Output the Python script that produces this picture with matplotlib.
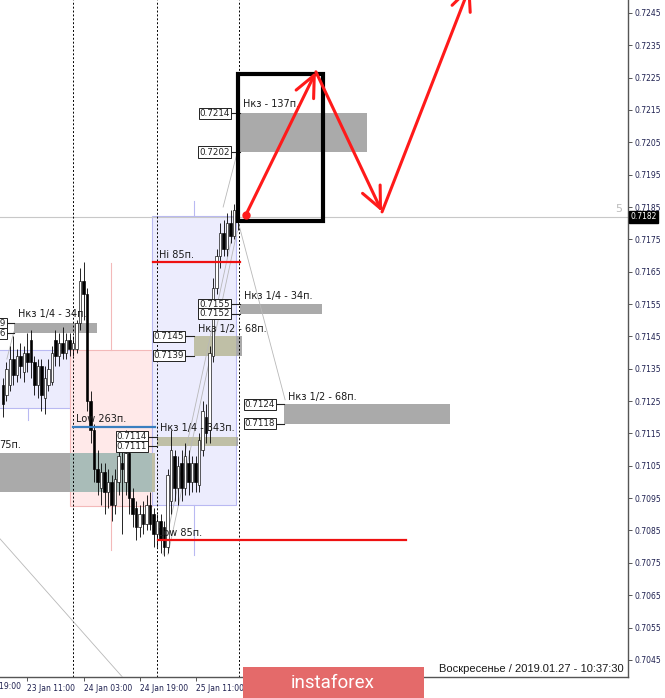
import matplotlib
matplotlib.use("Agg")
import matplotlib.pyplot as plt
from matplotlib.patches import Rectangle
from matplotlib.transforms import blended_transform_factory

# бары H1, индекс 0 = 23 Jan 00:00
bar_idx = list(range(4, 72))
opens = [0.7130, 0.7127, 0.7130, 0.7138, 0.7133, 0.7139, 0.7134, 0.7140, 0.7144, 0.7137,
         0.7130, 0.7136, 0.7126, 0.7130, 0.7131, 0.7144, 0.7139, 0.7143, 0.7140, 0.7144,
         0.7141, 0.7141, 0.7149, 0.7162, 0.7158, 0.7125, 0.7116, 0.7104, 0.7098, 0.7103,
         0.7097, 0.7100, 0.7093, 0.7100, 0.7106, 0.7100, 0.7109, 0.7095, 0.7092, 0.7086,
         0.7090, 0.7087, 0.7093, 0.7090, 0.7084, 0.7088, 0.7086, 0.7080, 0.7094, 0.7108,
         0.7098, 0.7106, 0.7098, 0.7106, 0.7100, 0.7106, 0.7099, 0.7110, 0.7120, 0.7116,
         0.7139, 0.7160, 0.7170, 0.7177, 0.7172, 0.7180, 0.7176, 0.7184]
highs = [0.7132, 0.7137, 0.7142, 0.7145, 0.7141, 0.7143, 0.7142, 0.7146, 0.7147, 0.7139,
         0.7138, 0.7138, 0.7136, 0.7138, 0.7142, 0.7147, 0.7146, 0.7148, 0.7146, 0.7146,
         0.7145, 0.7150, 0.7166, 0.7168, 0.7160, 0.7128, 0.7118, 0.7110, 0.7106, 0.7106,
         0.7104, 0.7102, 0.7104, 0.7112, 0.7115, 0.7116, 0.7112, 0.7098, 0.7094, 0.7093,
         0.7094, 0.7096, 0.7097, 0.7092, 0.7090, 0.7090, 0.7088, 0.7104, 0.7116, 0.7110,
         0.7108, 0.7110, 0.7112, 0.7110, 0.7108, 0.7108, 0.7115, 0.7125, 0.7124, 0.7142,
         0.7163, 0.7172, 0.7180, 0.7181, 0.7183, 0.7184, 0.7186, 0.7186]
lows = [0.7120, 0.7125, 0.7128, 0.7130, 0.7131, 0.7132, 0.7131, 0.7134, 0.7132, 0.7127,
        0.7126, 0.7122, 0.7121, 0.7128, 0.7130, 0.7136, 0.7136, 0.7138, 0.7138, 0.7139,
        0.7139, 0.7140, 0.7147, 0.7150, 0.7122, 0.7112, 0.7100, 0.7096, 0.7093, 0.7090,
        0.7092, 0.7088, 0.7090, 0.7096, 0.7084, 0.7096, 0.7090, 0.7086, 0.7082, 0.7083,
        0.7084, 0.7085, 0.7085, 0.7080, 0.7080, 0.7078, 0.7077, 0.7078, 0.7090, 0.7094,
        0.7093, 0.7094, 0.7096, 0.7096, 0.7097, 0.7097, 0.7097, 0.7108, 0.7112, 0.7112,
        0.7137, 0.7158, 0.7166, 0.7170, 0.7170, 0.7174, 0.7175, 0.7178]
closes = [0.7124, 0.7135, 0.7138, 0.7133, 0.7139, 0.7136, 0.7140, 0.7137, 0.7137, 0.7130,
          0.7136, 0.7127, 0.7132, 0.7135, 0.7140, 0.7139, 0.7143, 0.7140, 0.7144, 0.7141,
          0.7143, 0.7149, 0.7162, 0.7158, 0.7125, 0.7116, 0.7104, 0.7100, 0.7103, 0.7097,
          0.7100, 0.7093, 0.7101, 0.7108, 0.7104, 0.7109, 0.7095, 0.7090, 0.7086, 0.7090,
          0.7087, 0.7093, 0.7087, 0.7084, 0.7088, 0.7082, 0.7080, 0.7102, 0.7110, 0.7098,
          0.7105, 0.7098, 0.7108, 0.7100, 0.7106, 0.7100, 0.7113, 0.7122, 0.7115, 0.7140,
          0.7160, 0.7170, 0.7177, 0.7172, 0.7180, 0.7176, 0.7184, 0.7182]

last_price = 0.7182
price_ticks = [0.7045 + 0.001 * k for k in range(21)]
time_ticks = [11, 27, 43, 59]
time_labels = ["23 Jan 11:00", "24 Jan 03:00", "24 Jan 19:00", "25 Jan 11:00"]
day_seps = [24, 48, 71.5]

# сессионные коробки
sess_x0 = [-0.5, 23.1, 46.6]
sess_x1 = [23.1, 46.6, 70.6]
sess_hi = [0.71409, 0.71409, 0.71823]
sess_lo = [0.71229, 0.70926, 0.70929]
sess_mid = [11.1, 34.9, 58.6]
sess_top = [0.71409, 0.71677, 0.71870]
sess_bot = [0.71192, 0.70791, 0.70775]
sess_face = ["#ececfd", "#ffe9e9", "#ececfd"]
sess_edge = ["#b9b9f2", "#f3b9b9", "#b9b9f2"]
sess_mix = ["#bfbfa6", "#a9bcb8", "#bfbfa6"]

# зоны Нкз
zone_hi = [0.7214, 0.7155, 0.7124, 0.7145, 0.7114, 0.7149, 0.7109]
zone_lo = [0.7202, 0.7152, 0.7118, 0.7139, 0.7111, 0.7146, 0.7097]
zone_x0 = [71.7, 71.7, 84.3, 58.6, 47.9, 7.1, 0.0]
zone_x1 = [108.0, 95.1, 131.7, 72.3, 71.1, 30.9, 47.4]
zone_lab = [69.1, 69.1, 82.0, 56.0, 45.4, 5.1, None]

texts = ["Нкз - 137п.", "Нкз 1/4 - 34п.", "Нкз 1/2 - 68п.", "Нкз 1/2 - 68п.",
         "Нкз 1/4 - 343п.", "Нкз 1/4 - 34п.", "75п.", "Hi 85п.", "Low 85п.", "Low 263п."]
text_x = [72.6, 72.9, 85.4, 59.7, 48.9, 8.3, 3.0, 48.6, 48.3, 24.9]
text_y = [0.72169, 0.71576, 0.71262, 0.71474, 0.71167, 0.71520, 0.71115, 0.71702, 0.70843, 0.71195]

# уровни
lvl_y = [0.71680, 0.70822, 0.71170]
lvl_x0 = [46.9, 48.3, 24.0]
lvl_x1 = [71.7, 119.1, 47.4]
lvl_c = ["#ee1111", "#ee1111", "#3a7fc0"]

# тонкие серые линии
gl_x = [(3.0, 39.5), (70.9, 84.6), (49.7, 70.9), (51.1, 70.9), (66.9, 71.1), (5.1, 7.1)]
gl_y = [(0.70826, 0.70380), (0.71816, 0.71254), (0.70775, 0.71831), (0.70775, 0.71775),
        (0.71850, 0.72026), (0.71380, 0.71464)]

# прогноз
path_x = [73.4, 93.4, 112.3, 137.5]
path_y = [0.71826, 0.72268, 0.71835, 0.72535]
box_x = (71.1, 95.4)
box_y = (0.71807, 0.72261)

fig = plt.figure(figsize=(6.65, 6.98), dpi=100)
ax = fig.add_axes([0, 21 / 698, 628 / 665, 677 / 698])
ax.set_xlim(3.143, 182.57)
ax.set_ylim(0.70397, 0.72490)

for x0, x1, hi, lo, mid, top, bot, fc, ec in zip(sess_x0, sess_x1, sess_hi, sess_lo, sess_mid,
                                                  sess_top, sess_bot, sess_face, sess_edge):
    ax.add_patch(Rectangle((x0, lo), x1 - x0, hi - lo, fc=fc, ec=ec, lw=0.8, zorder=1))
    ax.plot([mid, mid], [hi, top], color=ec, lw=0.8, zorder=1)
    ax.plot([mid, mid], [bot, lo], color=ec, lw=0.8, zorder=1)

for hi, lo, x0, x1, lab in zip(zone_hi, zone_lo, zone_x0, zone_x1, zone_lab):
    ax.add_patch(Rectangle((x0, lo), x1 - x0, hi - lo, fc="#aaaaaa", ec="none", zorder=2))
    # смешение с сессионными коробками
    for sx0, sx1, shi, slo, mix in zip(sess_x0, sess_x1, sess_hi, sess_lo, sess_mix):
        ox0, ox1 = max(x0, sx0), min(x1, sx1)
        oy0, oy1 = max(lo, slo), min(hi, shi)
        if ox1 > ox0 and oy1 > oy0:
            ax.add_patch(Rectangle((ox0, oy0), ox1 - ox0, oy1 - oy0, fc=mix, ec="none", zorder=2.1))
    if lab is not None:
        for p in (hi, lo):
            ax.plot([lab, x0], [p, p], color="#222222", lw=0.8, zorder=4)
            ax.text(lab - 0.25, p, "%.4f" % p, ha="right", va="center", fontsize=6.3,
                    color="#222222", zorder=4.5,
                    bbox=dict(boxstyle="square,pad=0.12", fc="white", ec="#222222", lw=0.7))

for x in day_seps:
    ax.axvline(x, color="black", lw=0.7, ls=(0, (2, 2)), zorder=2.5)

ax.axhline(last_price, color="#c8c8c8", lw=0.8, zorder=1.5)

for gx, gy in zip(gl_x, gl_y):
    ax.plot(gx, gy, color="#b8b8b8", lw=0.6, zorder=2.6)

# свечи
for i, o, h, l, c in zip(bar_idx, opens, highs, lows, closes):
    ax.vlines(i, l, h, color="black", lw=0.6, zorder=3)
    bot = min(o, c)
    ht = max(abs(c - o), 0.00003)
    ax.bar(i, ht, bottom=bot, width=0.58, color="white" if c >= o else "black",
           edgecolor="black", linewidth=0.45, zorder=3.1)

for y, x0, x1, c in zip(lvl_y, lvl_x0, lvl_x1, lvl_c):
    ax.plot([x0, x1], [y, y], color=c, lw=1.6, zorder=3.5)

for t, x, y in zip(texts, text_x, text_y):
    ax.text(x, y, t, fontsize=7, color="#1a1a1a", ha="left", va="center", zorder=5)

ax.add_patch(Rectangle((box_x[0], box_y[0]), box_x[1] - box_x[0], box_y[1] - box_y[0],
                       fc="none", ec="black", lw=3, zorder=6))

ax.plot(path_x[0], path_y[0], "o", color="#ff1a1a", ms=5, zorder=7)
for k in range(len(path_x) - 1):
    ax.annotate("", xy=(path_x[k + 1], path_y[k + 1]), xytext=(path_x[k], path_y[k]),
                arrowprops=dict(arrowstyle="->,head_length=1.1,head_width=0.5", color="#ff1a1a",
                                lw=2.2, mutation_scale=14, shrinkA=0, shrinkB=0),
                zorder=7, annotation_clip=False)

ax.text(181.0, last_price + 0.00008, "5", fontsize=8, color="#bdbdbd", ha="right", va="bottom")

# оси
for s in ("left", "top"):
    ax.spines[s].set_visible(False)
for s in ("right", "bottom"):
    ax.spines[s].set_color("#555555")
    ax.spines[s].set_linewidth(1.0)
ax.yaxis.tick_right()
ax.set_yticks(price_ticks)
ax.set_yticklabels(["%.4f" % p for p in price_ticks])
ax.tick_params(axis="y", length=3, width=0.7, colors="#555555", labelcolor="#1e2050",
               labelsize=5.5, pad=2)
ax.set_xticks(time_ticks)
ax.set_xticklabels(time_labels, ha="left")
ax.tick_params(axis="x", length=3, width=0.7, colors="#555555", labelcolor="#1e2050",
               labelsize=5.5, pad=2)
trans = blended_transform_factory(ax.transData, ax.transAxes)
ax.text(-4.6, -0.0075, "22 Jan 19:00", transform=trans, fontsize=5.5, color="#1e2050",
        ha="left", va="top", clip_on=False)

tr2 = blended_transform_factory(ax.transAxes, ax.transData)
ax.text(1.004, last_price, "%.4f" % last_price, transform=tr2, fontsize=5.5, color="white",
        ha="left", va="center", clip_on=False, zorder=8,
        bbox=dict(boxstyle="square,pad=0.2", fc="black", ec="black"))

fig.text(624 / 665, (698 - 669) / 698, "Воскресенье / 2019.01.27 - 10:37:30",
         fontsize=8, family="Liberation Sans", color="#1a1a1a", ha="right", va="center")

fig.patches.append(Rectangle((243 / 665, 0), 181 / 665, 31 / 698, transform=fig.transFigure,
                             fc="#e46a6a", ec="none", zorder=10))
fig.text(333 / 665, 15 / 698, "instaforex", fontsize=13.5, family="Roboto", color="white",
         ha="center", va="center", zorder=11)

fig.savefig("out.png", dpi=100)
